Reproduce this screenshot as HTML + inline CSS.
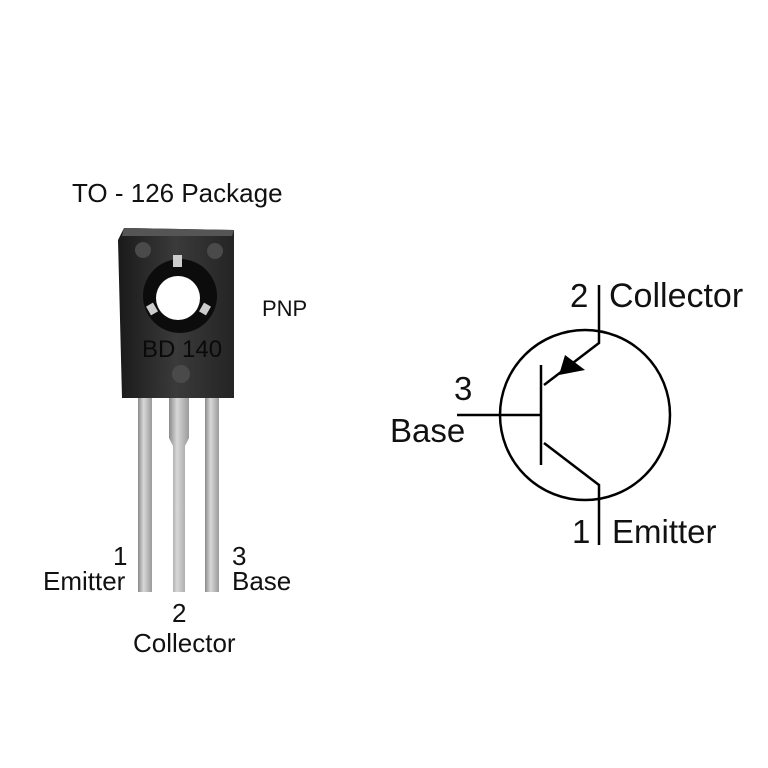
<!DOCTYPE html>
<html><head><meta charset="utf-8"><style>
html,body{margin:0;padding:0;background:#fff;}
svg{display:block;}
text{font-family:"Liberation Sans",Arial,sans-serif;fill:#111;}
</style></head><body>
<svg width="768" height="768" viewBox="0 0 768 768" xmlns="http://www.w3.org/2000/svg">
<defs>
<linearGradient id="lead" x1="0" x2="1" y1="0" y2="0">
<stop offset="0" stop-color="#8a8a8a"/><stop offset="0.4" stop-color="#d8d8d8"/><stop offset="1" stop-color="#9a9a9a"/>
</linearGradient>
<linearGradient id="body" x1="0" x2="1" y1="0" y2="0">
<stop offset="0" stop-color="#1a1a1a"/><stop offset="0.5" stop-color="#3a3a3a"/><stop offset="1" stop-color="#242424"/>
</linearGradient>
</defs>
<text x="72" y="202" font-size="26">TO - 126 Package</text>
<text x="262" y="316" font-size="22">PNP</text>
<!-- leads -->
<rect x="138" y="392" width="14" height="200" fill="url(#lead)"/>
<path d="M169 392 H189 V438 L185 446 V592 H173 V446 L169 438 Z" fill="url(#lead)"/>
<rect x="205" y="392" width="14" height="200" fill="url(#lead)"/>
<!-- body -->
<path d="M124 228 L234 230 L234 398 L122 398 L118 240 Z" fill="url(#body)"/>
<path d="M124 228 L234 230 L232 236 L122 236 Z" fill="#555"/>
<circle cx="143" cy="250" r="8" fill="#4a4a4a"/>
<circle cx="215" cy="251" r="8" fill="#4a4a4a"/>
<circle cx="181" cy="374" r="9" fill="#4a4a4a"/>
<circle cx="180" cy="296" r="37" fill="#0c0c0c"/>
<circle cx="178" cy="298" r="22" fill="#fff"/>
<rect x="173" y="255" width="9" height="12" fill="#ccc"/>
<rect x="148" y="304" width="8" height="10" fill="#ccc" transform="rotate(-30 152 309)"/>
<rect x="201" y="304" width="8" height="10" fill="#ccc" transform="rotate(30 205 309)"/>
<text x="142" y="357" font-size="24" style="fill:#0a0a0a">BD 140</text>
<!-- lead labels -->
<text x="113" y="565" font-size="26">1</text>
<text x="43" y="590" font-size="26">Emitter</text>
<text x="232" y="565" font-size="26">3</text>
<text x="232" y="590" font-size="26">Base</text>
<text x="172" y="622" font-size="26">2</text>
<text x="133" y="652" font-size="26">Collector</text>
<!-- symbol -->
<g stroke="#000" stroke-width="2.5" fill="none">
<circle cx="585" cy="415" r="85"/>
<polyline points="599,285 599,343 544,385"/>
<line x1="541" y1="365" x2="541" y2="465"/>
<line x1="457" y1="415" x2="541" y2="415"/>
<polyline points="544,443 599,485 599,545"/>
</g>
<polygon points="559,375 565,355 585,370" fill="#000"/>
<text x="570" y="307" font-size="33">2</text>
<text x="609" y="307" font-size="34">Collector</text>
<text x="454" y="400" font-size="33">3</text>
<text x="390" y="442" font-size="33">Base</text>
<text x="572" y="543" font-size="33">1</text>
<text x="612" y="543" font-size="33">Emitter</text>
</svg>
</body></html>
